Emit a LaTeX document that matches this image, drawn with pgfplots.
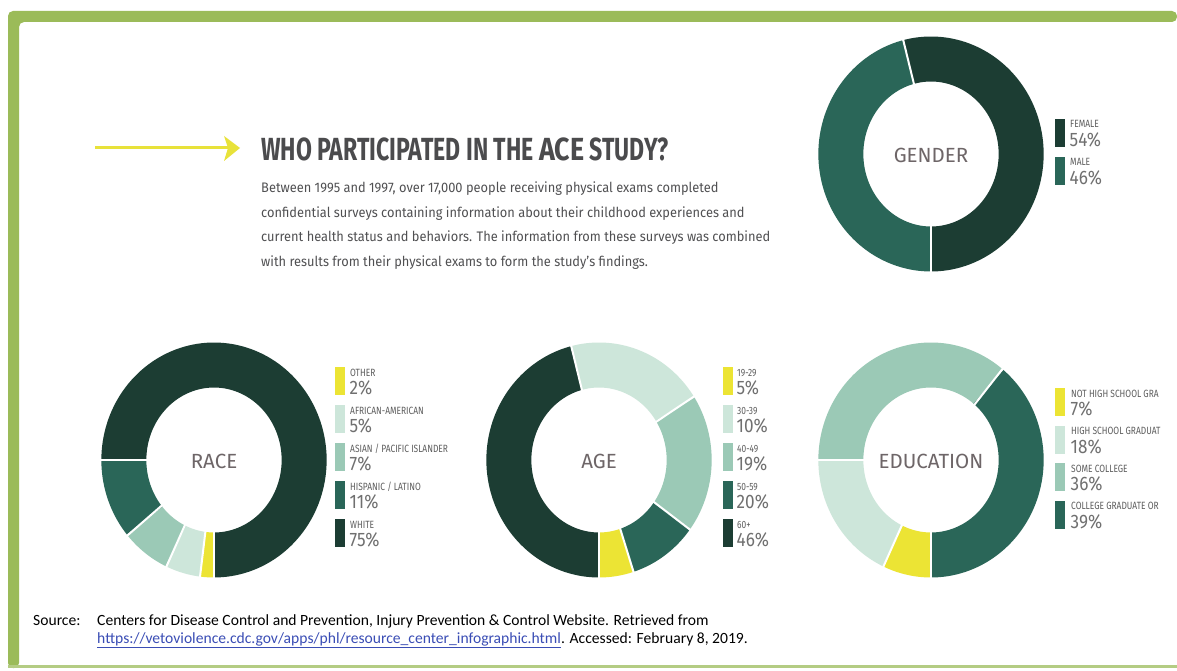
\documentclass[border=0pt]{standalone}
\usepackage{fontspec}
\setmainfont{Fira Sans}
\newfontfamily\condfont[FakeStretch=0.72]{Fira Sans}
\newfontfamily\acefont[FakeStretch=0.84]{Fira Sans}
\newfontfamily\bodyfont[FakeStretch=0.93]{Fira Sans}
\newfontfamily\legfont[FakeStretch=0.8]{Fira Sans}
\newfontfamily\pctfont[FakeStretch=0.88]{Fira Sans}
\newfontfamily\srcfont{Carlito}
\usepackage{pgfplots}
\pgfplotsset{compat=1.18}

\definecolor{cdark}{HTML}{1C3D33}
\definecolor{cteal}{HTML}{2A6658}
\definecolor{cmid}{HTML}{9BC9B6}
\definecolor{clight}{HTML}{CDE6DA}
\definecolor{cyel}{HTML}{ECE434}
\definecolor{framegreen}{HTML}{9BBB59}
\definecolor{titlegray}{HTML}{4B4B4D}
\definecolor{bodygray}{HTML}{505052}
\definecolor{labgray}{HTML}{5E5E5E}
\definecolor{pctgray}{HTML}{707070}
\definecolor{centergray}{HTML}{6E6668}
\definecolor{linkblue}{HTML}{3A4DB5}
\definecolor{arrowyel}{HTML}{E8E23A}

% one ring slice: #1 cumulative start (%), #2 share (%), #3 colour
% slices run clockwise from the bottom of the ring
\newcommand{\slice}[3]{%
  \addplot[draw=#3, line width=45pt, domain=270-3.6*(#1+#2):270-3.6*#1, samples=120] ({0.805*cos(x)},{0.805*sin(x)});
}
% white separator at the start of a slice: #1 cumulative (%)
\newcommand{\sep}[1]{%
  \addplot[draw=white, line width=2pt, domain=0.55:1.05, samples=2] ({x*cos(270-3.6*#1)},{x*sin(270-3.6*#1)});
}
\pgfplotsset{donut/.style={anchor=center, width=224pt, height=236pt, scale only axis,
  hide axis, xmin=-1, xmax=1, ymin=-1, ymax=1, clip=false}}

% legend row: #1 bar x, #2 text x, #3 top (px from top), #4 colour, #5 label, #6 share
\newcommand{\legrow}[6]{%
  \fill[#4] (#1,670-#3) rectangle (#1+10,670-#3-28);
  \node[anchor=base west, inner sep=0, text=labgray, font=\legfont\fontsize{10.5}{10.5}\selectfont] at (#2,670-#3-9) {#5};
  \node[anchor=base west, inner sep=0, text=pctgray, font=\pctfont\fontsize{19.5}{19.5}\selectfont] at (#2-0.5,670-#3-27.5) {#6};
}

\begin{document}
\begin{tikzpicture}[x=1pt,y=1pt]
\fill[white] (0,0) rectangle (1177,670);
% frame
\fill[framegreen, rounded corners=5pt] (8,2) |- (1177,659) -- (1177,648) -| (19,2) -- cycle;
\fill[framegreen!75] (8,2) rectangle (1177,5);

% arrow
\draw[arrowyel, line width=3pt] (95,522) -- (230,522);
\fill[arrowyel] (224,534) -- (240,522) -- (224,509) -- (228,522) -- cycle;

% title
\node[anchor=base west, inner sep=0, text=titlegray, font=\condfont\bfseries\fontsize{32}{32}\selectfont] at (261,509)
  {WHO PARTICIPATED IN THE {\acefont\bfseries ACE} STUDY?};

% body text
\begin{scope}[every node/.style={anchor=base west, inner sep=0, text=bodygray, font=\bodyfont\fontsize{13.8}{13.8}\selectfont}]
\node at (261,477) {Between 1995 and 1997, over 17,000 people receiving physical exams completed};
\node at (261,452) {confidential surveys containing information about their childhood experiences and};
\node at (261,428) {current health status and behaviors. The information from these surveys was combined};
\node at (261,403) {with results from their physical exams to form the study’s findings.};
\end{scope}

% GENDER
\begin{axis}[donut, at={(931pt,516pt)}]
\slice{0}{46}{cteal}
\slice{46}{54}{cdark}
\sep{0}\sep{46}
\end{axis}
% RACE
\begin{axis}[donut, at={(214pt,210pt)}]
\slice{0}{2}{cyel}
\slice{2}{5}{clight}
\slice{7}{7}{cmid}
\slice{14}{11}{cteal}
\slice{25}{75}{cdark}
\sep{0}\sep{2}\sep{7}\sep{14}\sep{25}
\end{axis}
% AGE
\begin{axis}[donut, at={(599pt,210pt)}]
\slice{0}{46}{cdark}
\slice{46}{20}{clight}
\slice{66}{19}{cmid}
\slice{85}{10}{cteal}
\slice{95}{5}{cyel}
\sep{0}\sep{46}\sep{66}\sep{85}\sep{95}
\end{axis}
% EDUCATION
\begin{axis}[donut, at={(931pt,210pt)}]
\slice{0}{7}{cyel}
\slice{7}{18}{clight}
\slice{25}{36}{cmid}
\slice{61}{39}{cteal}
\sep{0}\sep{7}\sep{25}\sep{61}
\end{axis}

% centre labels
\begin{scope}[every node/.style={inner sep=0, text=centergray, font=\fontsize{20.5}{20.5}\selectfont}]
\node at (931,515) {GENDER};
\node at (214,209) {RACE};
\node at (599,209) {AGE};
\node at (931,209) {EDUCATION};
\end{scope}

% legends
\legrow{1055}{1070}{119}{cdark}{FEMALE}{54\%}
\legrow{1055}{1070}{157}{cteal}{MALE}{46\%}

\legrow{335}{350}{367}{cyel}{OTHER}{2\%}
\legrow{335}{350}{405}{clight}{AFRICAN-AMERICAN}{5\%}
\legrow{335}{350}{443}{cmid}{ASIAN / PACIFIC ISLANDER}{7\%}
\legrow{335}{350}{481}{cteal}{HISPANIC / LATINO}{11\%}
\legrow{335}{350}{519}{cdark}{WHITE}{75\%}

\legrow{723}{737}{367}{cyel}{19-29}{5\%}
\legrow{723}{737}{405}{clight}{30-39}{10\%}
\legrow{723}{737}{443}{cmid}{40-49}{19\%}
\legrow{723}{737}{481}{cteal}{50-59}{20\%}
\legrow{723}{737}{519}{cdark}{60+}{46\%}

% education legend (labels truncated at the right edge, as in the source)
\legrow{1055}{1071}{388}{cyel}{NOT HIGH SCHOOL GRA}{7\%}
\legrow{1055}{1071}{425.5}{clight}{HIGH SCHOOL GRADUAT}{18\%}
\legrow{1055}{1071}{463}{cmid}{SOME COLLEGE}{36\%}
\legrow{1055}{1071}{500.5}{cteal}{COLLEGE GRADUATE OR}{39\%}

% source
\begin{scope}[every node/.style={anchor=base west, inner sep=0, text=black, font=\srcfont\fontsize{15.6}{15.6}\selectfont}]
\node at (33,45) {Source:};
\node at (97,45) {Centers for Disease Control and Prevention, Injury Prevention \& Control Website. Retrieved from};
\node at (97,27) {{\color{linkblue}\underline{https://vetoviolence.cdc.gov/apps/phl/resource\_center\_infographic.html}}. Accessed: February 8, 2019.};
\end{scope}
\pgfresetboundingbox
\path[use as bounding box] (0,0) rectangle (1177,670);
\end{tikzpicture}
\end{document}
